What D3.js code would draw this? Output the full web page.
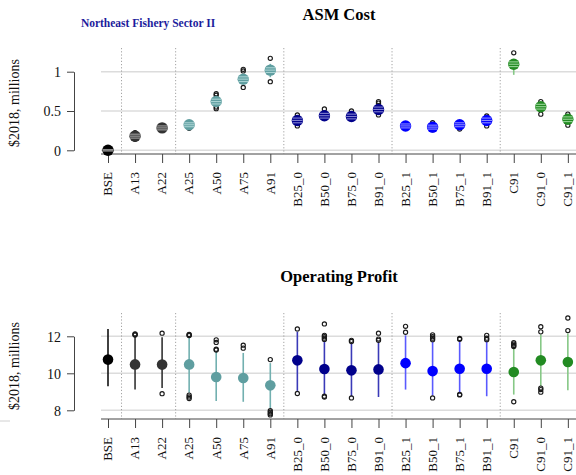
<!DOCTYPE html>
<html>
<head>
<meta charset="utf-8">
<script src="https://cdn.jsdelivr.net/npm/d3@7"></script>
<style>
  html, body { margin: 0; padding: 0; background: #fff; }
  svg { display: block; }
  text { font-family: "Liberation Serif", "Times New Roman", serif; }
</style>
</head>
<body>
<svg id="chart" width="576" height="475"></svg>
<script>
// Scenario labels along the x axis
const categories = ["BSE", "A13", "A22", "A25", "A50", "A75", "A91",
  "B25_0", "B50_0", "B75_0", "B91_0", "B25_1", "B50_1", "B75_1", "B91_1",
  "C91", "C91_0", "C91_1"];

// Scenario group (drives colour)
const groups = ["base", "grey", "grey", "teal", "teal", "teal", "teal",
  "navy", "navy", "navy", "navy", "blue", "blue", "blue", "blue",
  "green", "green", "green"];

// ASM cost ($2018 millions): box statistics per scenario
const costMedian = [0, 0.18, 0.285, 0.325, 0.62, 0.905, 1.02, 0.38, 0.44, 0.43, 0.52, 0.31, 0.295, 0.325, 0.38, 1.095, 0.555, 0.395];
const costQ1     = [-0.01, 0.155, 0.26, 0.30, 0.59, 0.875, 0.99, 0.35, 0.41, 0.40, 0.49, 0.285, 0.27, 0.30, 0.35, 1.065, 0.525, 0.365];
const costQ3     = [0.01, 0.205, 0.31, 0.35, 0.65, 0.935, 1.05, 0.41, 0.47, 0.46, 0.55, 0.335, 0.32, 0.35, 0.41, 1.125, 0.585, 0.425];
const costLow    = [-0.02, 0.14, 0.25, 0.29, 0.56, 0.84, 0.93, 0.33, 0.39, 0.38, 0.46, 0.27, 0.255, 0.285, 0.33, 0.96, 0.50, 0.35];
const costHigh   = [0.02, 0.22, 0.32, 0.36, 0.68, 0.97, 1.10, 0.43, 0.49, 0.48, 0.58, 0.35, 0.335, 0.365, 0.43, 1.16, 0.61, 0.44];
const costOutliers = [[], [0.215, 0.225, 0.14], [], [0.28], [0.70, 0.72, 0.53, 0.55], [1.01, 1.03, 0.80],
  [1.17, 0.873], [0.45, 0.31], [0.525], [0.50], [0.60, 0.62, 0.45], [], [0.35, 0.26], [0.27],
  [0.436, 0.31], [1.24], [0.62, 0.46], [0.46, 0.32]];

// Operating profit ($2018 millions): box statistics per scenario
const profitMedian = [10.74, 10.48, 10.47, 10.48, 9.80, 9.75, 9.35, 10.70, 10.23, 10.16, 10.21, 10.55, 10.12, 10.25, 10.25, 10.07, 10.70, 10.61];
const profitLow    = [9.30, 9.12, 9.20, 8.95, 8.50, 8.46, 8.10, 9.05, 8.85, 8.75, 8.72, 9.12, 8.80, 8.90, 8.76, 8.85, 9.30, 9.08];
const profitHigh   = [12.40, 12.05, 11.95, 12.00, 11.15, 11.10, 10.55, 12.25, 11.75, 11.60, 11.70, 12.05, 11.70, 11.80, 11.75, 11.35, 12.10, 12.15];
const profitOutliers = [[], [12.13, 12.10, 12.07], [12.17, 8.90], [12.10, 12.07, 12.04, 8.82, 8.72, 8.64],
  [11.81, 11.67, 11.30, 11.26], [11.52, 11.36], [10.74, 7.98, 7.90, 7.82, 7.75],
  [12.40, 8.91], [12.67, 12.05, 11.98, 11.90, 11.83, 8.76, 8.72], [11.78, 11.72, 8.67],
  [12.17, 11.85, 11.78], [12.54, 12.22], [12.08, 11.98, 11.90, 11.82, 8.67], [11.88, 11.84, 8.86, 8.83],
  [12.05, 11.90, 11.82], [11.65, 11.58, 11.50, 11.45, 8.46], [12.52, 12.24, 9.20, 9.12, 8.98], [12.99, 12.31]];

// Axis ticks
const costTicks = [0, 0.5, 1];
const costTickLabels = ["0", "0.5", "1"];
const profitTicks = [8, 10, 12];
const profitTickLabels = ["8", "10", "12"];

// Scenario family breaks (drawn between these neighbours)
const separatorsAfter = ["BSE", "A22", "A91", "B91_0", "B91_1"];

// Colours per group
const dotColor    = { base: "#000000", grey: "#333333", teal: "#5f9ea0", navy: "#00008b", blue: "#0000ff", green: "#228b22" };
const whiskerColor = { base: "#111111", grey: "#333333", teal: "#72b0b0", navy: "#3a3ab8", blue: "#5a5aff", green: "#86c886" };
const stripeColor = { base: "#8a8a8a", grey: "#a0a0a0", teal: "#a9d3d3", navy: "#8080d0", blue: "#8c8cff", green: "#98d498" };

const svg = d3.select("#chart");

const plotLeft = 101, plotRight = 576;
const x = d3.scalePoint().domain(categories).range([108, 108 + 27.05 * 17]);

function drawPanel(cfg) {
  const g = svg.append("g");
  const y = cfg.y;

  // horizontal grid
  g.selectAll("line.grid").data(cfg.ticks).enter().append("line")
    .attr("x1", plotLeft).attr("x2", plotRight)
    .attr("y1", d => y(d)).attr("y2", d => y(d))
    .attr("stroke", "#dcdcdc").attr("stroke-width", 1.6);

  // dotted group separators
  g.selectAll("line.sep").data(separatorsAfter).enter().append("line")
    .attr("x1", d => x(d) + x.step() / 2).attr("x2", d => x(d) + x.step() / 2)
    .attr("y1", cfg.top).attr("y2", cfg.axisY)
    .attr("stroke", "#8c8c8c").attr("stroke-width", 0.8)
    .attr("stroke-dasharray", "1.2,2");

  // x axis
  const xAxis = d3.axisBottom(x).tickSize(9).tickSizeOuter(0).tickFormat("");
  const xa = g.append("g").attr("transform", `translate(0,${cfg.axisY})`).call(xAxis);
  xa.select(".domain").remove();
  xa.selectAll(".tick line").attr("stroke", "#444").attr("stroke-width", 1);
  g.append("line").attr("x1", plotLeft).attr("x2", plotRight)
    .attr("y1", cfg.axisY).attr("y2", cfg.axisY)
    .attr("stroke", "#444").attr("stroke-width", 1);

  g.selectAll("text.xlab").data(categories).enter().append("text")
    .attr("transform", d => `translate(${x(d) + 4.3},${cfg.axisY + 18}) rotate(-90)`)
    .attr("text-anchor", "end")
    .attr("font-size", 13).attr("fill", "#111")
    .text(d => d);

  // y axis
  const yAxis = d3.axisLeft(y).tickValues(cfg.ticks).tickSize(7).tickSizeOuter(0)
    .tickFormat((d, i) => cfg.tickLabels[i]);
  const ya = g.append("g").attr("transform", "translate(74,0)").call(yAxis);
  ya.select(".domain").attr("stroke", "#444");
  ya.selectAll(".tick line").attr("stroke", "#444");
  ya.selectAll(".tick text")
    .attr("font-family", "'Liberation Serif', serif")
    .attr("font-size", 14).attr("fill", "#111").attr("x", -13).attr("dy", "0.35em");

  g.append("text")
    .attr("transform", `translate(19,${cfg.labelY}) rotate(-90)`)
    .attr("text-anchor", "middle").attr("font-size", 14).attr("fill", "#111")
    .text("$2018, millions");

  // title
  g.append("text").attr("x", 339).attr("y", cfg.titleY)
    .attr("text-anchor", "middle").attr("font-size", 16.5).attr("font-weight", "bold")
    .attr("fill", "#000").text(cfg.title);

  const rows = categories.map((c, i) => ({
    cat: c, grp: groups[i], med: cfg.median[i], lo: cfg.low[i], hi: cfg.high[i],
    q1: cfg.q1 ? cfg.q1[i] : null, q3: cfg.q3 ? cfg.q3[i] : null, out: cfg.outliers[i]
  }));

  // whiskers
  g.selectAll("line.wh").data(rows).enter().append("line")
    .attr("x1", d => x(d.cat)).attr("x2", d => x(d.cat))
    .attr("y1", d => y(d.lo)).attr("y2", d => y(d.hi))
    .attr("stroke", d => whiskerColor[d.grp]).attr("stroke-width", 1.6);

  // outliers (open rings; overlapping ones merge into dark blobs)
  rows.forEach(d => {
    g.selectAll(null).data(d.out).enter().append("circle")
      .attr("cx", x(d.cat)).attr("cy", v => y(v)).attr("r", 2.1)
      .attr("fill", "none").attr("stroke", "#1a1a1a").attr("stroke-width", 1.15);
  });

  // median dots
  const r = cfg.r;
  g.selectAll("circle.dot").data(rows).enter().append("circle")
    .attr("cx", d => x(d.cat)).attr("cy", d => y(d.med)).attr("r", r)
    .attr("fill", d => dotColor[d.grp]);

  // box edges and median drawn across the dot
  if (cfg.q1) {
    rows.forEach(d => {
      [d.q1, d.med, d.q3].forEach(v => {
        const dy = y(v) - y(d.med);
        if (Math.abs(dy) >= r) return;
        const half = Math.sqrt(r * r - dy * dy) - 0.4;
        g.append("line")
          .attr("x1", x(d.cat) - half).attr("x2", x(d.cat) + half)
          .attr("y1", y(v)).attr("y2", y(v))
          .attr("stroke", stripeColor[d.grp]).attr("stroke-width", 1.1);
      });
    });
  }
}

// Subtitle
svg.append("text").attr("x", 148).attr("y", 27)
  .attr("text-anchor", "middle").attr("font-size", 11.5).attr("font-weight", "bold")
  .attr("fill", "#1c1c9c").text("Northeast Fishery Sector II");

drawPanel({
  title: "ASM Cost", titleY: 20,
  y: d3.scaleLinear().domain([0, 1]).range([150.3, 71.7]),
  ticks: costTicks, tickLabels: costTickLabels,
  top: 48, axisY: 154, labelY: 103, r: 5.7,
  median: costMedian, low: costLow, high: costHigh, q1: costQ1, q3: costQ3, outliers: costOutliers
});

drawPanel({
  title: "Operating Profit", titleY: 282,
  y: d3.scaleLinear().domain([8, 12]).range([410.3, 336.3]),
  ticks: profitTicks, tickLabels: profitTickLabels,
  top: 313, axisY: 419, labelY: 366, r: 5.3,
  median: profitMedian, low: profitLow, high: profitHigh, outliers: profitOutliers
});

// small stray tick at the lower-left edge
svg.append("line").attr("x1", 0).attr("x2", 10).attr("y1", 421).attr("y2", 421)
  .attr("stroke", "#d0d0d0").attr("stroke-width", 1);
</script>
</body>
</html>
